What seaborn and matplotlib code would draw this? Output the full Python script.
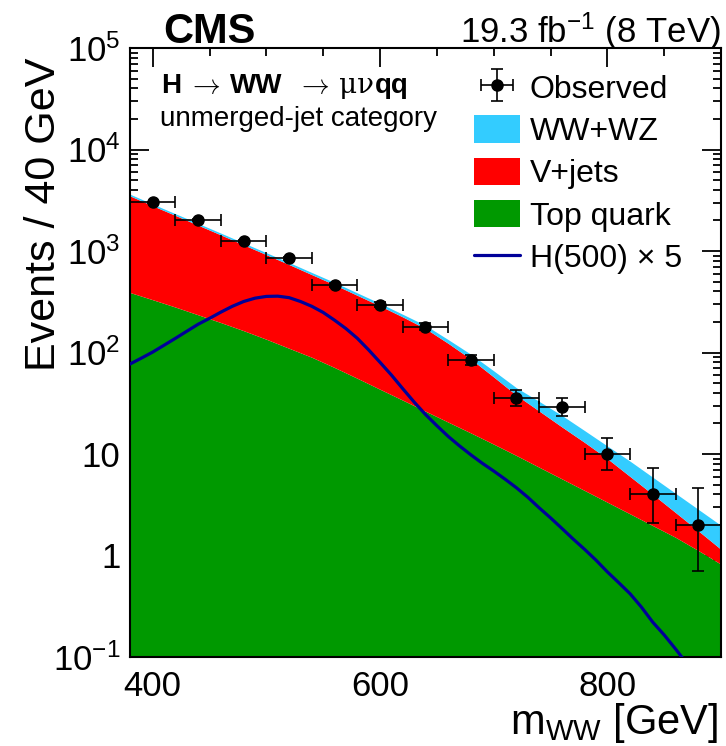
import numpy as np
import pandas as pd
import matplotlib
matplotlib.use("Agg")
import matplotlib.pyplot as plt
import seaborn as sns
from matplotlib.ticker import FixedLocator, FixedFormatter, LogLocator, NullFormatter
from matplotlib.patches import Patch
from matplotlib.lines import Line2D

# ---------------- data ----------------
mass = [380, 400, 420, 440, 460, 480, 500, 520, 540, 560, 580, 600, 620, 640,
        660, 680, 700, 720, 740, 760, 780, 800, 820, 840, 860, 880, 900]
top_quark = [390, 331, 280, 235, 197, 164, 135, 110, 89.7, 71.1, 55.7, 43.4, 33.9, 26.4,
             20.6, 16.1, 12.5, 9.66, 7.41, 5.69, 4.37, 3.35, 2.57, 1.97, 1.51, 1.12, 0.82]
v_jets = [3100, 2459, 1960, 1560, 1243, 986, 785, 625, 495, 394, 310, 244.6, 190.1, 145.6,
          102.4, 69.9, 44.9, 28.3, 19.1, 12.8, 8.63, 5.65, 3.43, 2.03, 1.14, 0.63, 0.33]
ww_wz = [140, 110, 90, 75, 60, 50, 42, 35, 29, 25, 21, 17, 14, 13,
         11, 10, 8.6, 7, 6.5, 5.5, 4.0, 3.0, 2.5, 1.9, 1.45, 1.1, 0.83]

sig_mass = [380, 390, 400, 410, 420, 430, 440, 450, 460, 470, 480, 490, 500, 510, 520,
            530, 540, 550, 560, 570, 580, 590, 600, 610, 620, 630, 640, 650, 660, 670,
            680, 690, 700, 710, 720, 730, 740, 750, 760, 770, 780, 790, 800, 810, 820,
            830, 840, 850, 860, 870, 880]
signal = [77, 88, 101, 118, 138, 162, 190, 217, 250, 285, 318, 343, 357, 359, 347,
          318, 285, 248, 208, 172, 138, 106, 80, 60, 44, 32.5, 24.5, 19.0, 14.9, 12.0,
          9.8, 8.1, 6.8, 5.65, 4.65, 3.75, 2.95, 2.35, 1.85, 1.45, 1.15, 0.9, 0.69, 0.54, 0.42,
          0.31, 0.22, 0.165, 0.12, 0.086, 0.06]

obs_mass = [400, 440, 480, 520, 560, 600, 640, 680, 720, 760, 800, 840, 880]
observed = [3010, 2000, 1250, 850, 460, 295, 180, 84, 36, 29, 10, 4, 2]
obs_err_lo = [54.4, 44.2, 34.9, 28.7, 21.0, 16.7, 13.1, 9.2, 6.0, 5.4, 3.1, 1.9, 1.3]
obs_err_hi = [55.4, 45.2, 35.9, 29.7, 22.0, 17.7, 14.1, 10.2, 7.1, 6.4, 4.3, 3.2, 2.6]
bin_half_width = 20

ytick_vals = [0.1, 1, 10, 100, 1e3, 1e4, 1e5]
ytick_labels = [r'$10^{-1}$', '1', '10', r'$10^{2}$', r'$10^{3}$', r'$10^{4}$', r'$10^{5}$']
xtick_vals = [400, 600, 800]

# ---------------- style ----------------
sns.set_theme(style="ticks")
plt.rcParams['font.family'] = ['Liberation Sans', 'DejaVu Sans']
plt.rcParams['mathtext.fontset'] = 'custom'
plt.rcParams['mathtext.rm'] = 'Liberation Sans'
plt.rcParams['mathtext.it'] = 'Liberation Sans:italic'
plt.rcParams['mathtext.bf'] = 'Liberation Sans:bold'
plt.rcParams['axes.linewidth'] = 1.5
for key in ['text.color', 'axes.labelcolor', 'xtick.color', 'ytick.color',
            'xtick.labelcolor', 'ytick.labelcolor', 'axes.edgecolor']:
    plt.rcParams[key] = 'black'

C_TOP = '#009900'
C_VJ = '#ff0000'
C_WW = '#33ccff'
C_SIG = '#000099'

W, H = 726, 746
fig = plt.figure(figsize=(W / 100, H / 100), dpi=100)
ax = fig.add_axes([130 / W, 1 - 657 / H, (721 - 130) / W, (657 - 48) / H])

stack = pd.DataFrame({'mass': mass, 'top': top_quark, 'vj': v_jets, 'ww': ww_wz})
stack['red_top'] = stack['top'] + stack['vj']
stack['total'] = stack['red_top'] + stack['ww']

ax.fill_between(stack['mass'], 1e-3, stack['top'], color=C_TOP, lw=0, zorder=1)
ax.fill_between(stack['mass'], stack['top'], stack['red_top'], color=C_VJ, lw=0, zorder=1)
ax.fill_between(stack['mass'], stack['red_top'], stack['total'], color=C_WW, lw=0, zorder=1)

sig_df = pd.DataFrame({'mass': sig_mass, 'signal': signal})
sns.lineplot(data=sig_df, x='mass', y='signal', ax=ax, color=C_SIG, lw=2.3, zorder=3)

eb = ax.errorbar(obs_mass, observed, xerr=bin_half_width, yerr=[obs_err_lo, obs_err_hi],
                 fmt='o', color='black', ms=8, capsize=4, elinewidth=1.2, capthick=1.2,
                 zorder=5)

ax.set_yscale('log')
ax.set_xlim(380, 900)
ax.set_ylim(0.1, 1e5)

ax.yaxis.set_major_locator(FixedLocator(ytick_vals))
ax.yaxis.set_major_formatter(FixedFormatter(ytick_labels))
ax.yaxis.set_minor_locator(LogLocator(base=10, subs=np.arange(2, 10), numticks=20))
ax.yaxis.set_minor_formatter(NullFormatter())
ax.xaxis.set_major_locator(FixedLocator(xtick_vals))
ax.xaxis.set_minor_locator(FixedLocator([450, 500, 550, 650, 700, 750, 850]))

ax.tick_params(which='both', direction='in', top=True, right=True, color='black',
               labelcolor='black', width=1.3)
ax.tick_params(which='major', length=13.5, labelsize=25, pad=7)
ax.tick_params(which='minor', length=6)
ax.tick_params(axis='x', which='major', pad=9)
for s in ax.spines.values():
    s.set_color('black')

ax.set_ylabel('Events / 40 GeV', fontsize=31, loc='top', color='black')
ax.yaxis.set_label_coords(-0.112, 0.985)
ax.set_xlabel(r'm$_{\mathrm{WW}}$ [GeV]', fontsize=30, loc='right', color='black')
ax.xaxis.set_label_coords(0.995, -0.073)

fig.text(163 / W, 1 - 43 / H, 'CMS', fontsize=30, fontweight='bold', ha='left', va='baseline')
fig.text(721 / W, 1 - 43 / H, r'19.3 fb$^{-1}$ (8 TeV)', fontsize=25, ha='right', va='baseline')

# channel label, laid out piece by piece so that the arrows can be long and thin
renderer = fig.canvas.get_renderer()
pieces = [('H', dict(fontsize=20, fontweight='bold'), 7),
          (r'$\rightarrow$', dict(fontsize=20, math_fontfamily='cm'), 9),
          ('WW', dict(fontsize=20, fontweight='bold'), 14),
          (r'$\rightarrow$', dict(fontsize=20, math_fontfamily='cm'), 9),
          ('μν', dict(fontsize=20, family=['DejaVu Serif']), 1),
          ('qq', dict(fontsize=20, fontweight='bold'), 0)]
x_px = 161
base_y = 1 - 93 / H
for txt, props, gap in pieces:
    t = fig.text(x_px / W, base_y, txt, ha='left', va='baseline', **props)
    bb = t.get_window_extent(renderer)
    x_px = bb.x1 + gap
fig.text(160 / W, 1 - 126 / H, 'unmerged-jet category', fontsize=20, ha='left', va='baseline')

handles = [eb,
           Patch(facecolor=C_WW, edgecolor='none'),
           Patch(facecolor=C_VJ, edgecolor='none'),
           Patch(facecolor=C_TOP, edgecolor='none'),
           Line2D([0], [0], color=C_SIG, lw=2.3)]
labels = ['Observed', 'WW+WZ', 'V+jets', 'Top quark', r'H(500) × 5']
leg = ax.legend(handles, labels, loc='upper left', bbox_to_anchor=(474 / W, 1 - 73 / H),
                bbox_transform=fig.transFigure, frameon=False, fontsize=23,
                handlelength=1.45, handleheight=0.95, handletextpad=0.3,
                labelspacing=0.33, borderpad=0, borderaxespad=0)
for t in leg.get_texts():
    t.set_color('black')

fig.savefig('out.png', dpi=100)
